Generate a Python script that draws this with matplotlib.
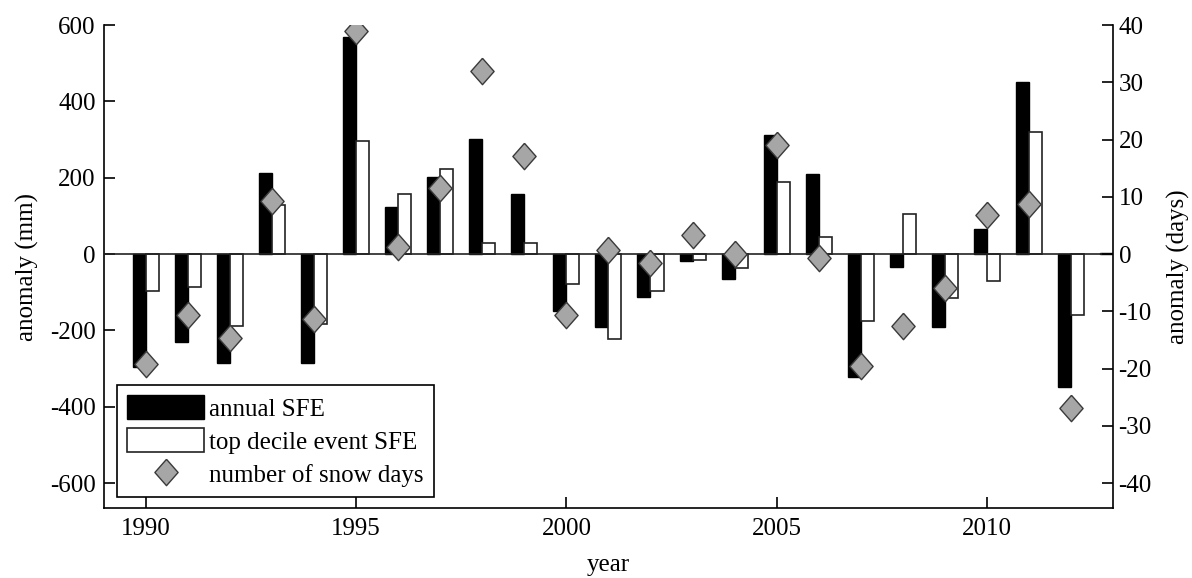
"""
SFE anomalies (annual and top-decile events) with snow-day anomalies, 1990-2013
"""
import matplotlib.pyplot as plt
import matplotlib as mpl
import numpy as np

mpl.rcParams.update({
    'font.family': 'serif',
    'font.serif': ['Liberation Serif', 'DejaVu Serif'],
    'font.size': 18,
    'axes.unicode_minus': False,
    'axes.linewidth': 1.2,
})

years = np.arange(1990, 2014)
annual_sfe = [-295, -231, -285, 213, -285, 569, 124, 202, 301, 158,
              -149, -192, -112, -17, -66, 311, 209, -323, -33, -190,
              65, 451, -348, 4]
top_decile_sfe = [-96, -86, -188, 128, -184, 296, 158, 222, 28, 29,
                  -77, -223, -96, -16, -36, 188, 45, -175, 104, -116,
                  -71, 321, -160, 0]
snow_days = [-19.2, -10.6, -14.6, 9.2, -11.3, 39.0, 1.3, 11.5, 31.9, 17.1,
             -10.7, 0.7, -1.6, 3.3, 0.0, 19.1, -0.7, -19.5, -12.6, -6.0,
             6.8, 8.8, -26.8, np.nan]

# slightly tall diamond
diamond = [(0, 1), (0.88, 0), (0, -1), (-0.88, 0), (0, 1)]

fig = plt.figure(figsize=(11.92, 5.78), dpi=100)
ax = fig.add_axes([0.0872, 0.1211, 0.8465, 0.8356])
ax2 = ax.twinx()

w = 0.31
b1 = ax.bar(years - w / 2, annual_sfe, w, color='black', edgecolor='black',
            linewidth=1.0, label='annual SFE', zorder=2)
b2 = ax.bar(years + w / 2, top_decile_sfe, w, color='white', edgecolor='#222222',
            linewidth=1.2, label='top decile event SFE', zorder=2)
ax.axhline(0, color='#222222', linewidth=1.2, zorder=3)

ax.set_xlim(1989, 2013)
ax.set_ylim(-665, 600)
ax.set_yticks(np.arange(-600, 601, 200))
ax.set_xticks([1990, 1995, 2000, 2005, 2010])
ax.tick_params(axis='both', direction='in', length=8, width=1.2)
ax.tick_params(axis='x', pad=7)
ax.tick_params(axis='y', pad=6, right=False)
for s in ['top', 'right']:
    ax.spines[s].set_visible(False)

ax.set_xlabel('year')
ax.set_ylabel('anomaly (mm)')
ax.xaxis.set_label_coords(0.5, -0.095)
ax.yaxis.set_label_coords(-0.064, 0.5)

# snow days on the right axis, scaled so 40 days sits level with 600 mm
ax2.plot(years, snow_days, linestyle='none', marker=diamond, markersize=19,
         markerfacecolor='#a6a6a6', markeredgecolor='#3a3a3a',
         markeredgewidth=1.0, label='number of snow days', zorder=4)
ax2.set_ylim(-665 / 15, 40)
ax2.set_yticks(np.arange(-40, 41, 10))
ax2.tick_params(axis='y', direction='in', length=8, width=1.2, pad=4)
for s in ['top', 'left', 'bottom']:
    ax2.spines[s].set_visible(False)
ax2.spines['right'].set_linewidth(1.2)
ax2.set_ylabel('anomaly (days)')
ax2.yaxis.set_label_coords(1.053, 0.5)

ax.set_zorder(ax2.get_zorder() - 1)
ax.patch.set_visible(False)
ax2.set_zorder(1)

handles = [b1, b2, ax2.get_lines()[0]]
labels = [h.get_label() for h in handles]
leg = ax2.legend(handles, labels, loc='lower left',
                 bbox_to_anchor=(0.0129, 0.0228), borderaxespad=0,
                 fancybox=False, framealpha=1, edgecolor='black',
                 handlelength=3.1, handleheight=1.1, handletextpad=0.2,
                 labelspacing=0.3, borderpad=0.4, numpoints=1)
leg.get_frame().set_linewidth(1.2)

fig.savefig('out.png', dpi=100)
